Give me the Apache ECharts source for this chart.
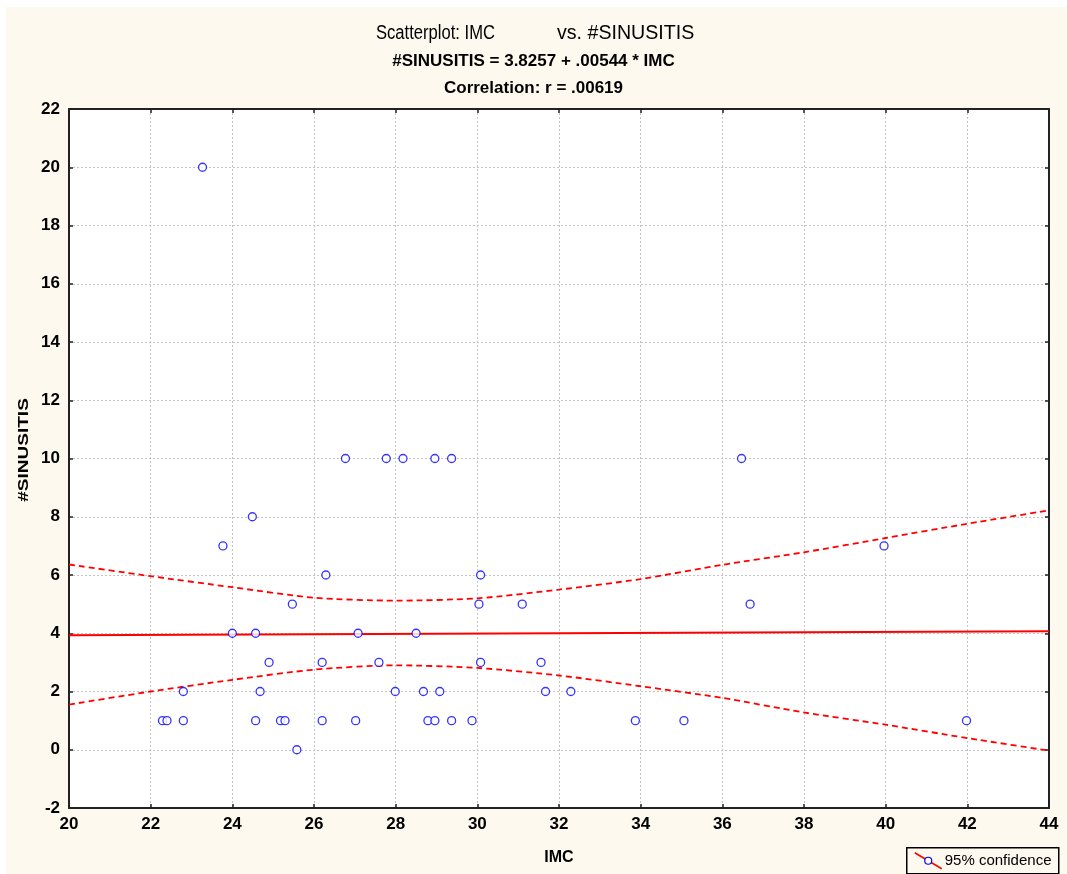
<!DOCTYPE html>
<html>
<head>
<meta charset="utf-8">
<title>Scatterplot: IMC vs. #SINUSITIS</title>
<script src="https://cdn.jsdelivr.net/npm/echarts@6/dist/echarts.min.js"></script>
<style>
  html, body { margin: 0; padding: 0; background: #ffffff; }
  #chart { width: 1067px; height: 874px; }
</style>
</head>
<body>
<div id="chart"></div>
<script>
// Observations: body-mass index (IMC) and number of sinusitis episodes
const imc = [
  23.27, 26.77, 27.77, 28.18, 28.96, 29.37, 36.47,
  24.49, 23.77, 39.96,
  26.29, 30.08,
  25.47, 30.04, 31.10, 36.68,
  24.00, 24.57, 27.08, 28.50,
  24.90, 26.20, 27.59, 30.08, 31.56,
  22.80, 24.68, 27.99, 28.68, 29.08, 31.67, 32.29,
  22.29, 22.40, 22.80, 24.57, 25.18, 25.29, 26.20, 27.02,
  28.79, 28.96, 29.37, 29.87, 33.87, 35.06, 41.98,
  25.58
];
const sinusitis = [
  20, 10, 10, 10, 10, 10, 10,
  8, 7, 7,
  6, 6,
  5, 5, 5, 5,
  4, 4, 4, 4,
  3, 3, 3, 3, 3,
  2, 2, 2, 2, 2, 2, 2,
  1, 1, 1, 1, 1, 1, 1, 1,
  1, 1, 1, 1, 1, 1, 1,
  0
];

// Fitted line: #SINUSITIS = 3.8257 + .00544 * IMC
const intercept = 3.8257;
const slope = 0.00544;
const fitRange = [20, 44];

// 95% confidence band around the fitted line
const bandX = [20, 22, 24, 26, 28, 30, 32, 34, 36, 38, 40, 42, 44];
const bandUpper = [6.36, 5.96, 5.58, 5.22, 5.12, 5.20, 5.50, 5.86, 6.35, 6.78, 7.27, 7.76, 8.22];
const bandLower = [1.55, 2.00, 2.40, 2.75, 2.90, 2.81, 2.55, 2.18, 1.78, 1.28, 0.86, 0.40, -0.03];

const xTicks = { min: 20, max: 44, interval: 2 };
const yTicks = { min: -2, max: 22, interval: 2 };

const FONT = '"Liberation Sans", Arial, sans-serif';
const RED = '#ff0000';
const BLUE = '#0000ff';
const CREAM = '#fdf9ee';

const points = imc.map((x, i) => [x, sinusitis[i]]);
const fitLine = fitRange.map(x => [x, intercept + slope * x]);
const upper = bandX.map((x, i) => [x, bandUpper[i]]);
const lower = bandX.map((x, i) => [x, bandLower[i]]);

const gridLine = { show: true, lineStyle: { color: '#c4c4c4', type: [2, 2], width: 1 } };
const frame = { show: true, onZero: false, lineStyle: { color: '#222', width: 2 } };
const innerTick = { show: true, inside: true, length: 4, lineStyle: { color: '#222', width: 1.5 } };

const chart = echarts.init(document.getElementById('chart'), null, { renderer: 'canvas' });

chart.setOption({
  animation: false,
  backgroundColor: '#ffffff',
  graphic: [
    {
      type: 'rect', z: -100, silent: true,
      shape: { x: 6, y: 7, width: 1061, height: 867 },
      style: { fill: CREAM }
    },
    // main heading, set in a condensed face: variable names in two fields
    {
      type: 'text', x: 376, y: 33, scaleX: 0.83, z: 100,
      style: {
        text: 'Scatterplot: IMC',
        fill: '#000', font: '20px ' + FONT, align: 'left', verticalAlign: 'middle'
      }
    },
    {
      type: 'text', x: 557, y: 33, scaleX: 0.98, z: 100,
      style: {
        text: 'vs. #SINUSITIS',
        fill: '#000', font: '20px ' + FONT, align: 'left', verticalAlign: 'middle'
      }
    },
    // vertical axis title
    {
      type: 'text', x: 24, y: 450, rotation: Math.PI / 2, scaleX: 1.36, z: 100,
      style: {
        text: '#SINUSITIS',
        fill: '#000', font: 'bold 14px ' + FONT, align: 'center', verticalAlign: 'middle'
      }
    },
    {
      type: 'group', left: 906, top: 847, z: 100,
      children: [
        { type: 'rect', shape: { x: 0, y: 0, width: 152, height: 26 },
          style: { fill: CREAM, stroke: '#000', lineWidth: 1.5 } },
        { type: 'line', shape: { x1: 8, y1: 5, x2: 35, y2: 21 },
          style: { stroke: RED, lineWidth: 1.5 } },
        { type: 'circle', shape: { cx: 21.5, cy: 13, r: 3.5 },
          style: { fill: '#ffffff', stroke: BLUE, lineWidth: 1.2 } },
        { type: 'text', x: 38, y: 13,
          style: { text: '95% confidence', fill: '#000', font: '15px ' + FONT, verticalAlign: 'middle' } }
      ]
    }
  ],
  title: [
    {
      text: '#SINUSITIS = 3.8257 + .00544 * IMC',
      left: 'center', top: 48,
      textStyle: { fontFamily: FONT, fontWeight: 'bold', fontSize: 17, color: '#000' }
    },
    {
      text: 'Correlation: r = .00619',
      left: 'center', top: 75,
      textStyle: { fontFamily: FONT, fontWeight: 'bold', fontSize: 17, color: '#000' }
    }
  ],
  grid: {
    left: 69, right: 18, top: 109, bottom: 66,
    show: true, backgroundColor: '#ffffff', borderWidth: 0
  },
  xAxis: [
    {
      type: 'value', position: 'bottom',
      min: xTicks.min, max: xTicks.max, interval: xTicks.interval,
      axisLine: frame, axisTick: innerTick, splitLine: gridLine,
      axisLabel: { color: '#000', fontFamily: FONT, fontWeight: 'bold', fontSize: 17, margin: 8 },
      name: 'IMC', nameLocation: 'middle', nameGap: 42,
      nameTextStyle: { color: '#000', fontFamily: FONT, fontWeight: 'bold', fontSize: 16 }
    },
    {
      type: 'value', position: 'top',
      min: xTicks.min, max: xTicks.max, interval: xTicks.interval,
      axisLine: frame, axisTick: innerTick, splitLine: { show: false },
      axisLabel: { show: false }
    }
  ],
  yAxis: [
    {
      type: 'value', position: 'left',
      min: yTicks.min, max: yTicks.max, interval: yTicks.interval,
      axisLine: frame, axisTick: innerTick, splitLine: gridLine,
      axisLabel: { color: '#000', fontFamily: FONT, fontWeight: 'bold', fontSize: 17, margin: 9 }
    },
    {
      type: 'value', position: 'right',
      min: yTicks.min, max: yTicks.max, interval: yTicks.interval,
      axisLine: frame, axisTick: innerTick, splitLine: { show: false },
      axisLabel: { show: false }
    }
  ],
  series: [
    {
      name: 'upper 95%', type: 'line', data: upper,
      showSymbol: false, smooth: 0.25, z: 3,
      lineStyle: { color: RED, width: 1.8, type: [6, 4] }
    },
    {
      name: 'lower 95%', type: 'line', data: lower,
      showSymbol: false, smooth: 0.25, z: 3,
      lineStyle: { color: RED, width: 1.8, type: [6, 4] }
    },
    {
      name: 'fit', type: 'line', data: fitLine,
      showSymbol: false, z: 3,
      lineStyle: { color: RED, width: 2 }
    },
    {
      name: '#SINUSITIS', type: 'scatter', data: points,
      symbol: 'circle', symbolSize: 8, z: 5,
      itemStyle: { color: '#ffffff', borderColor: BLUE, borderWidth: 1.3 }
    }
  ]
});
</script>
</body>
</html>
